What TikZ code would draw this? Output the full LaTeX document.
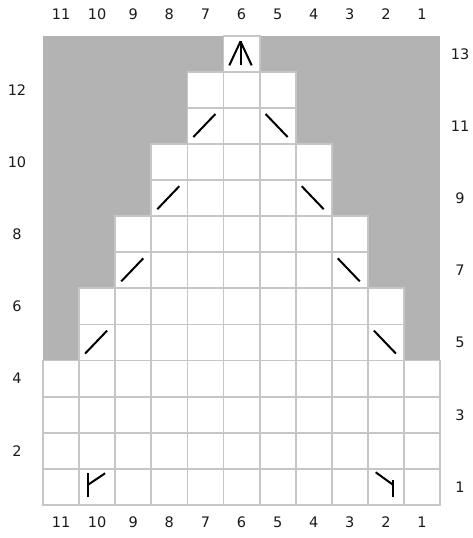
\documentclass[tikz,border=0pt]{standalone}
\usepackage{fontspec}
\setmainfont{DejaVu Sans}
\definecolor{bggray}{HTML}{B3B3B3}
\definecolor{gridgray}{HTML}{C6C6C6}
\definecolor{labelgray}{HTML}{1A1A1A}
\begin{document}
\begin{tikzpicture}[x=1pt,y=1pt,
  cell/.style={fill=white,draw=gridgray,line width=1.8pt},
  sym/.style={draw=black,line width=2pt},
  lbl/.style={font=\fontsize{14.5}{17}\selectfont,text=labelgray,inner sep=0pt}]
\def\c{36.1}
\useasboundingbox (0,0) rectangle (472,538);
% gray background of the shaped region
\fill[bggray] (43,{33+4*\c}) rectangle (440,502);
% white cells
\foreach \r/\a/\b in {1/1/11,2/1/11,3/1/11,4/1/11,5/2/10,6/2/10,7/3/9,8/3/9,9/4/8,10/4/8,11/5/7,12/5/7,13/6/6}{
  \foreach \k in {\a,...,\b}{
    \draw[cell] ({43+(11-\k)*\c},{33+(\r-1)*\c}) rectangle ++(\c,\c);
  }
}
% column labels
\foreach \k in {1,...,11}{
  \node[lbl] (top\k) at ({43+(11.5-\k)*\c},524) {\k};
  \node[lbl] (bot\k) at ({43+(11.5-\k)*\c},16) {\k};
}
% row labels
\foreach \r in {2,4,...,12}{
  \node[lbl] (left\r) at (17,{33+(\r-0.5)*\c}) {\r};
}
\foreach \r in {1,3,...,13}{
  \node[lbl] (right\r) at (460,{33+(\r-0.5)*\c}) {\r};
}
% slashes (left side, "/")
\foreach \k/\r in {10/5,9/7,8/9,7/11}{
  \draw[sym] ({43+(11-\k)*\c+6},{33+(\r-1)*\c+7}) -- ++(22,23);
}
% backslashes (right side, "\")
\foreach \k/\r in {2/5,3/7,4/9,5/11}{
  \draw[sym] ({43+(11-\k)*\c+6},{33+(\r-1)*\c+30}) -- ++(22,-23);
}
% top central decrease
\coordinate (apex) at ({43+5*\c+17},{33+12*\c+30.4});
\draw[sym] ({43+5*\c+5.8},{33+12*\c+6.4}) -- (apex);
\draw[sym] ({43+5*\c+17},{33+12*\c+6.4}) -- (apex);
\draw[sym] ({43+5*\c+28.2},{33+12*\c+6.4}) -- (apex);
% bottom row symbols
\draw[sym] ({43+1*\c+8.6},{33+7.7}) -- ++(0,24);
\draw[sym] ({43+1*\c+8.6},{33+20}) -- ({43+1*\c+26},{33+31.7});
\draw[sym] ({43+9*\c+25.4},{33+8}) -- ++(0,17);
\draw[sym] ({43+9*\c+7.8},{33+32.7}) -- ({43+9*\c+25.4},{33+20});
\end{tikzpicture}
\end{document}
